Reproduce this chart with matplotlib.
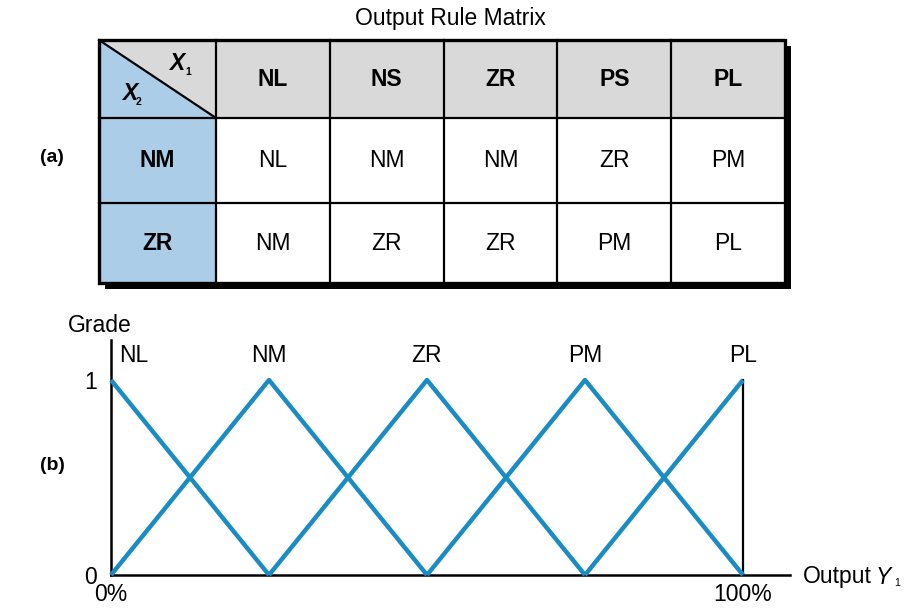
import matplotlib
matplotlib.use("Agg")
import matplotlib.pyplot as plt
from matplotlib.patches import Rectangle, Polygon

plt.rcParams['font.family'] = ['Liberation Sans', 'DejaVu Sans']

# ---------------- data ----------------
title = "Output Rule Matrix"
x1_labels = ['NL', 'NS', 'ZR', 'PS', 'PL']
x2_labels = ['NM', 'ZR']
rule_matrix = [['NL', 'NM', 'NM', 'ZR', 'PM'],
               ['NM', 'ZR', 'ZR', 'PM', 'PL']]

set_names = ['NL', 'NM', 'ZR', 'PM', 'PL']
set_peaks = [0, 25, 50, 75, 100]
set_x = [[0, 25], [0, 25, 50], [25, 50, 75], [50, 75, 100], [75, 100]]
set_y = [[1, 0], [0, 1, 0], [0, 1, 0], [0, 1, 0], [0, 1]]

W, H = 917, 613
fig = plt.figure(figsize=(W / 100, H / 100), dpi=100)

# ---------------- (a) table ----------------
ax0 = fig.add_axes([0, 0, 1, 1])
ax0.set_xlim(0, W)
ax0.set_ylim(H, 0)
ax0.axis('off')

left, top = 99, 40
c0w = 117
cw = 113.8
row_h = [78, 85, 80]
col_edges = [left, left + c0w] + [left + c0w + cw * (i + 1) for i in range(len(x1_labels))]
row_edges = [top]
for h in row_h:
    row_edges.append(row_edges[-1] + h)
right, bottom = col_edges[-1], row_edges[-1]

FS = 16.5
blue = '#abcde8'
grey = '#d9d9d9'

# shadow
ax0.add_patch(Rectangle((left + 6, top + 6), right - left, bottom - top,
                        facecolor='black', edgecolor='none', zorder=1))
ax0.add_patch(Rectangle((left, top), right - left, bottom - top,
                        facecolor='white', edgecolor='none', zorder=2))
# header row
ax0.add_patch(Rectangle((col_edges[1], row_edges[0]), right - col_edges[1], row_h[0],
                        facecolor=grey, edgecolor='none', zorder=2))
# first column
ax0.add_patch(Rectangle((left, row_edges[1]), c0w, bottom - row_edges[1],
                        facecolor=blue, edgecolor='none', zorder=2))
# corner cell split diagonally
ax0.add_patch(Polygon([(left, row_edges[0]), (col_edges[1], row_edges[0]),
                       (col_edges[1], row_edges[1])], closed=True,
                      facecolor=grey, edgecolor='none', zorder=2))
ax0.add_patch(Polygon([(left, row_edges[0]), (col_edges[1], row_edges[1]),
                       (left, row_edges[1])], closed=True,
                      facecolor=blue, edgecolor='none', zorder=2))
ax0.plot([left, col_edges[1]], [row_edges[0], row_edges[1]], color='black', lw=1.6, zorder=3)

# grid lines
for x in col_edges[1:-1]:
    ax0.plot([x, x], [top, bottom], color='black', lw=1.6, zorder=3)
for y in row_edges[1:-1]:
    ax0.plot([left, right], [y, y], color='black', lw=1.6, zorder=3)
ax0.add_patch(Rectangle((left, top), right - left, bottom - top,
                        facecolor='none', edgecolor='black', lw=2.4, zorder=4))

# texts
for j, lab in enumerate(x1_labels):
    cx = (col_edges[j + 1] + col_edges[j + 2]) / 2
    cy = (row_edges[0] + row_edges[1]) / 2
    ax0.text(cx, cy, lab, ha='center', va='center', fontsize=FS, fontweight='bold', zorder=5)
for i, lab in enumerate(x2_labels):
    cx = (col_edges[0] + col_edges[1]) / 2
    cy = (row_edges[i + 1] + row_edges[i + 2]) / 2
    ax0.text(cx, cy, lab, ha='center', va='center', fontsize=FS, fontweight='bold', zorder=5)
    for j, val in enumerate(rule_matrix[i]):
        cx2 = (col_edges[j + 1] + col_edges[j + 2]) / 2
        ax0.text(cx2, cy, val, ha='center', va='center', fontsize=FS, zorder=5)

ax0.text(177, 64, 'X', ha='center', va='center', fontsize=FS, fontweight='bold',
         fontstyle='italic', zorder=5)
ax0.text(185, 72, '1', ha='left', va='center', fontsize=7.5, fontweight='bold', zorder=5)
ax0.text(130, 93, 'X', ha='center', va='center', fontsize=FS, fontweight='bold',
         fontstyle='italic', zorder=5)
ax0.text(136, 102, '2', ha='left', va='center', fontsize=7.5, fontweight='bold', zorder=5)

ax0.text(450, 18, title, ha='center', va='center', fontsize=FS)
ax0.text(52, 158, '(a)', ha='center', va='center', fontsize=14, fontweight='bold')
ax0.text(52, 465, '(b)', ha='center', va='center', fontsize=14, fontweight='bold')

# ---------------- (b) membership functions ----------------
x0px, x100px = 111, 743
y0px, y1px = 575, 380
ytop_px, xend_px = 340, 790
xmax = 100 * (xend_px - x0px) / (x100px - x0px)
ymax = (y0px - ytop_px) / (y0px - y1px)
ax = fig.add_axes([x0px / W, (H - y0px) / H, (xend_px - x0px) / W, (y0px - ytop_px) / H])
ax.set_xlim(0, xmax)
ax.set_ylim(0, ymax)
ax.patch.set_alpha(0)
for s in ['top', 'right']:
    ax.spines[s].set_visible(False)
for s in ['left', 'bottom']:
    ax.spines[s].set_linewidth(1.8)
    ax.spines[s].set_zorder(1)

line_col = '#1a8cc4'
for xs, ys in zip(set_x, set_y):
    ax.plot(xs, ys, color=line_col, lw=3.2, solid_capstyle='butt', clip_on=False, zorder=3)
ax.plot([100, 100], [0, 1], color='black', lw=1.6, zorder=2)

for name, pk in zip(set_names, set_peaks):
    if pk == 0:
        ax.text(1.3, 1.065, name, ha='left', va='bottom', fontsize=FS)
    else:
        ax.text(pk, 1.065, name, ha='center', va='bottom', fontsize=FS)

ax.set_yticks([0, 1])
ax.set_yticklabels(['0', '1'], fontsize=FS)
ax.set_xticks([0, 100])
ax.set_xticklabels(['0%', '100%'], fontsize=FS)
ax.tick_params(axis='both', length=0)
ax.tick_params(axis='y', pad=10)
ax.tick_params(axis='x', pad=6)

ax0.text(68, 326, 'Grade', ha='left', va='center', fontsize=FS)
ax0.text(803, 577, 'Output', ha='left', va='center', fontsize=FS)
ax0.text(876, 577, 'Y', ha='left', va='center', fontsize=FS, fontstyle='italic')
ax0.text(894, 583, '1', ha='left', va='center', fontsize=7.5)

fig.savefig('out.png', dpi=100)
